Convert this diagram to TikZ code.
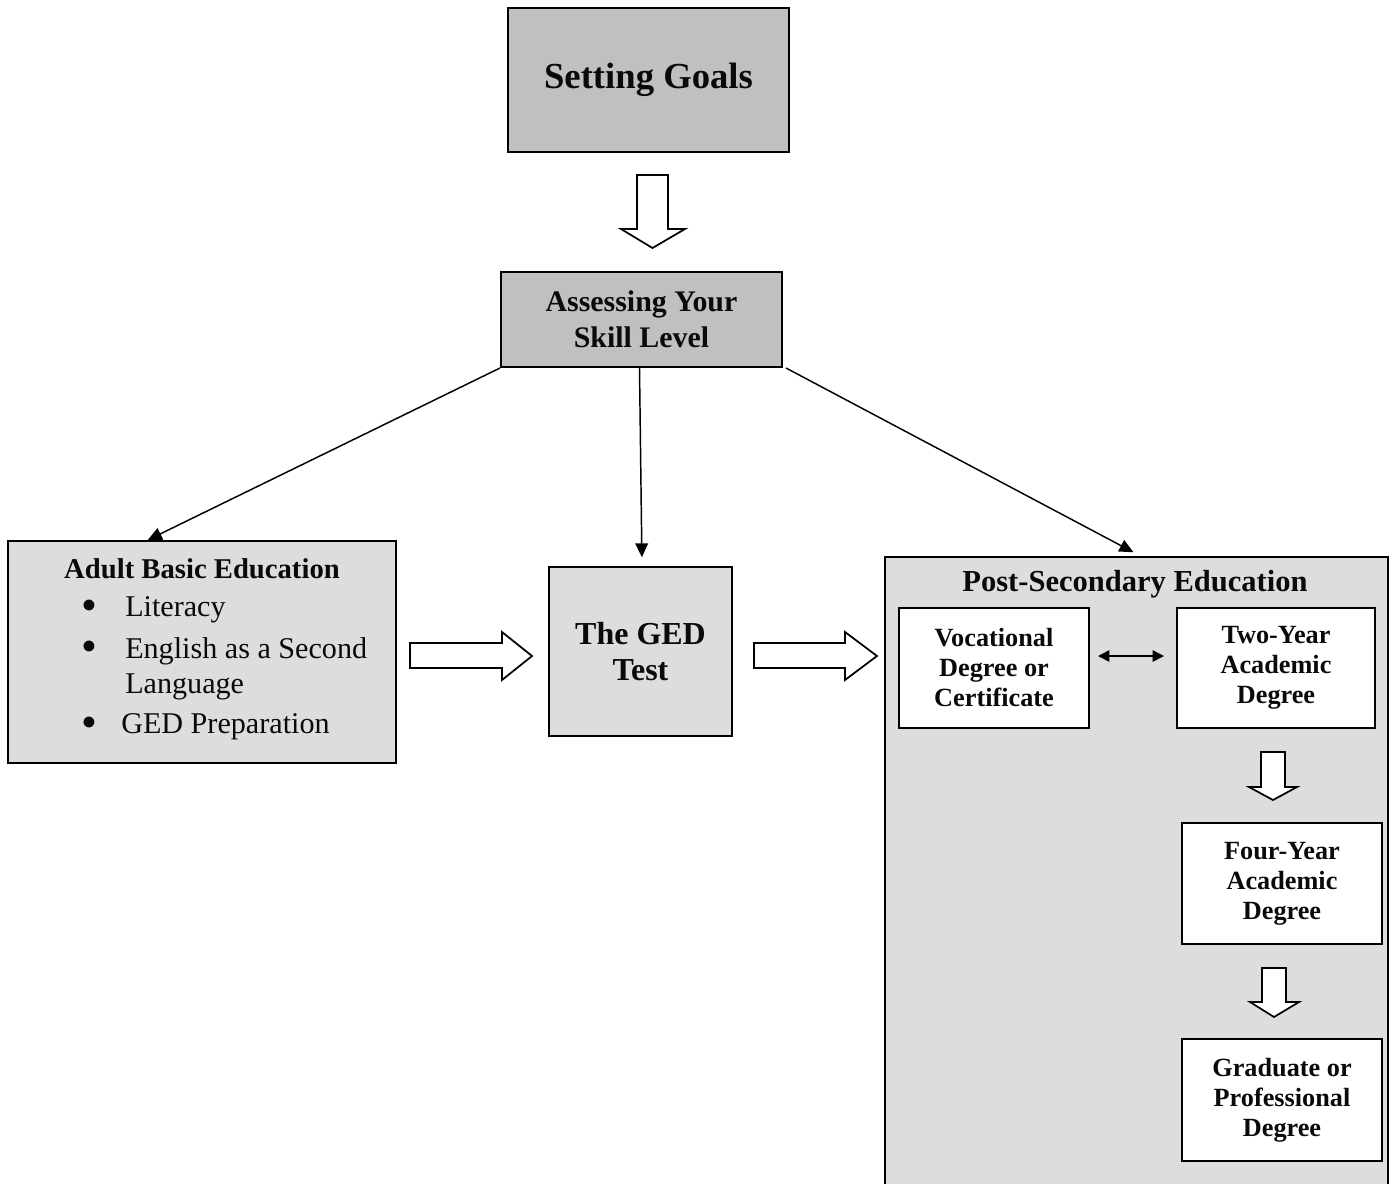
\documentclass[tikz,border=0pt]{standalone}
\usepackage{fontspec}
\setmainfont{Liberation Serif}
\usetikzlibrary{arrows.meta,calc}
\definecolor{darkfill}{HTML}{C0C0C0}
\definecolor{lightfill}{HTML}{DDDDDD}
\definecolor{ink}{HTML}{0A0A0A}
\begin{document}
\begin{tikzpicture}[x=0.75pt,y=-0.75pt,
  box/.style={draw=black, line width=1.5pt, inner sep=0pt, align=center, text=ink},
  wh/.style 2 args={minimum width=#1*0.75pt, minimum height=#2*0.75pt},
  lbl/.style={inner sep=0pt, text=ink},
  conn/.style={line width=1.1pt, -{Triangle[length=10.5pt,width=9.5pt]}},
  dbl/.style={line width=1.3pt, {Triangle[length=8.5pt,width=8.5pt]}-{Triangle[length=8.5pt,width=8.5pt]}},
  blockarrow/.style={draw=black, line width=1.3pt, fill=white, line join=miter},
  big/.style={font=\fontsize{27.5}{33}\selectfont\bfseries},
  mid/.style={font=\fontsize{22.4}{27}\selectfont\bfseries},
  ged/.style={font=\fontsize{24}{27}\selectfont\bfseries},
  inner/.style={font=\fontsize{19.7}{22.5}\selectfont\bfseries},
  item/.style={lbl, anchor=west, font=\fontsize{22.6}{26}\selectfont},
  bul/.style={lbl, font=\fontsize{34}{34}\selectfont}
]
\path[use as bounding box] (0,0) rectangle (1393,1183);
\clip (0,0) rectangle (1393,1183);

% top boxes
\node[box, fill=darkfill, wh={281}{144}, big] (goals) at (648.5,80) {Setting Goals};
\node[box, fill=darkfill, wh={281}{95}, mid] (assess) at (641.5,319.5) {Assessing Your\\Skill Level};

% block arrow goals -> assess
\draw[blockarrow] (637,175) -- (668,175) -- (668,229) -- (685,229) -- (652.5,248) -- (621,229) -- (637,229) -- cycle;

% adult basic education
\node[box, fill=lightfill, wh={388}{222}] (abe) at (202,652) {};
\node[lbl, font=\fontsize{21.5}{26}\selectfont\bfseries] (abetitle) at (202,569) {Adult Basic Education};
\node[bul] (b1) at (89,610) {•};
\node[bul] (b2) at (89,651) {•};
\node[bul] (b3) at (89,727) {•};
\node[item] (i1) at (125,610) {Literacy};
\node[item] (i2) at (125,651) {English as a Second};
\node[item] (i3) at (125,687) {Language};
\node[item] (i4) at (121,727) {GED Preparation};

% GED test
\node[box, fill=lightfill, wh={183}{169}, ged] (gedtest) at (640.5,651.5) {The GED\\Test};

% post-secondary
\node[box, fill=lightfill, wh={503}{700}, anchor=north west] (pse) at (884,556) {};
\node[lbl, font=\fontsize{22.9}{27}\selectfont\bfseries] (psetitle) at (1135,584) {Post-Secondary Education};
\node[box, fill=white, wh={190}{120}, inner] (voc) at (994,668) {Vocational\\Degree or\\Certificate};
\node[box, fill=white, wh={198}{120}, inner] (two) at (1276,668) {Two-Year\\Academic\\Degree};
\node[box, fill=white, wh={200}{121}, inner] (four) at (1282,883.5) {Four-Year\\Academic\\Degree};
\node[box, fill=white, wh={200}{122}, inner] (grad) at (1282,1100) {Graduate or\\Professional\\Degree};

% connectors
\draw[conn] (assess.south west) -- ($(abe.north west)!0.361!(abe.north east)$);
\draw[conn, shorten >=6.5pt] ($(assess.south)+(-2,0)$) -- ($(gedtest.north)+(1.5,0)$);
\draw[conn, shorten >=6pt] ($(assess.south east)+(3,0)$) -- ($(pse.north west)!0.508!(pse.north east)$);
\draw[dbl] ($(voc.east)+(8,-12)$) -- ($(two.west)+(-12,-12)$);

% block arrows
\draw[blockarrow] (410,643) -- (502,643) -- (502,632) -- (532,656) -- (502,680) -- (502,668) -- (410,668) -- cycle;
\draw[blockarrow] (754,643) -- (845,643) -- (845,632) -- (877,656) -- (845,680) -- (845,668) -- (754,668) -- cycle;
\draw[blockarrow] (1261,752) -- (1285,752) -- (1285,787) -- (1297,787) -- (1273,800) -- (1249,787) -- (1261,787) -- cycle;
\draw[blockarrow] (1262,968) -- (1286,968) -- (1286,1002) -- (1299,1002) -- (1274,1017) -- (1250,1002) -- (1262,1002) -- cycle;
\end{tikzpicture}
\end{document}
